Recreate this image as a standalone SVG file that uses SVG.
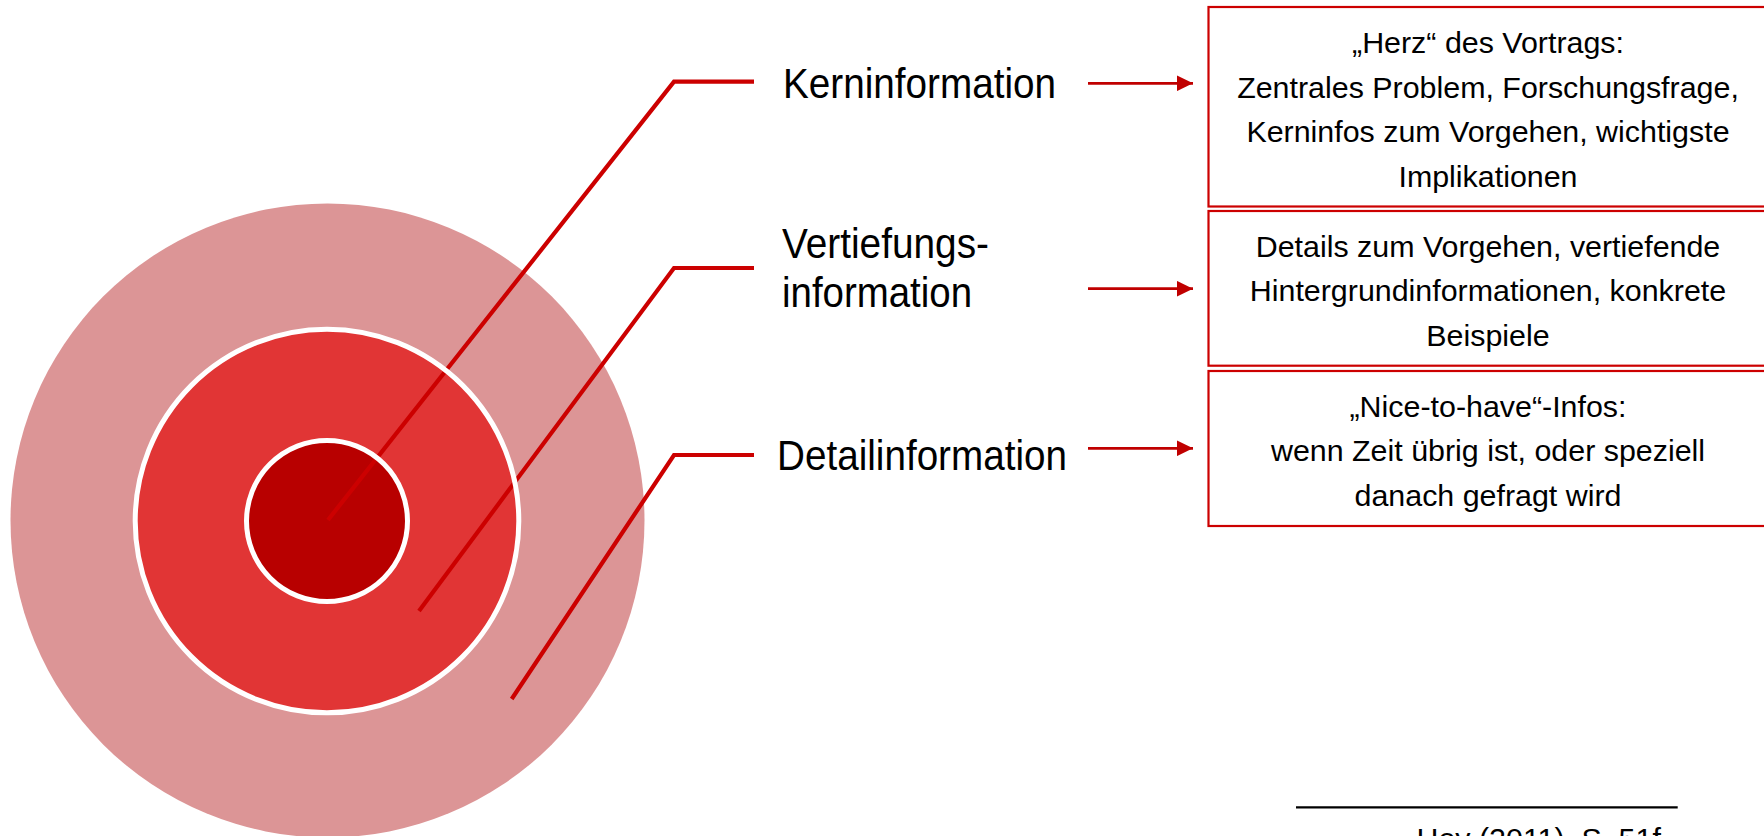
<svg xmlns="http://www.w3.org/2000/svg" width="1764" height="836" viewBox="0 0 1764 836">
  <style>
    .lbl { font-family: "Liberation Sans", Arial, sans-serif; font-size: 43px; fill: #000; }
    .txt { font-family: "Liberation Sans", Arial, sans-serif; font-size: 30.4px; fill: #000; text-anchor: middle; }
    .box { fill: #fff; stroke: #CC0000; stroke-width: 2.2; }
    .lead { fill: none; stroke: #CC0000; stroke-width: 4.2; stroke-linejoin: miter; stroke-linecap: butt; }
    .arr { stroke: #C00000; stroke-width: 2.7; }
    .ring { fill: none; stroke: #fff; stroke-width: 5; }
  </style>
  <defs>
    <marker id="head" markerUnits="userSpaceOnUse" markerWidth="16" markerHeight="16" refX="16" refY="8" orient="auto">
      <path d="M0,0.2 L16,8 L0,15.8 Z" fill="#C00000"/>
    </marker>
  </defs>

  <rect width="1764" height="836" fill="#fff"/>

  <!-- onion model: three concentric layers -->
  <g id="layers">
    <circle id="layer-detail" cx="327.5" cy="520.5" r="317" fill="#DC9596"/>
    <circle id="layer-vertiefung" cx="327" cy="521" r="192" fill="#E13535"/>
    <circle id="layer-kern" cx="327" cy="521" r="80.5" fill="#B80000"/>
  </g>

  <!-- leader lines from the layers to the labels -->
  <g id="connectors">
    <polyline class="lead" points="328,520 674,81.7 754,81.7"/>
    <polyline class="lead" points="419,611 674,268 754,268"/>
    <polyline class="lead" points="511.7,699 674,455 754,455"/>
    <line class="arr" x1="1088" y1="83.3" x2="1193" y2="83.3" marker-end="url(#head)"/>
    <line class="arr" x1="1088" y1="288.7" x2="1193" y2="288.7" marker-end="url(#head)"/>
    <line class="arr" x1="1088" y1="448.3" x2="1193" y2="448.3" marker-end="url(#head)"/>
  </g>

  <!-- white separators drawn above the leader lines -->
  <g id="separators">
    <circle class="ring" cx="327" cy="521" r="191.8"/>
    <circle class="ring" cx="327" cy="521" r="80.5"/>
  </g>

  <g id="label-kern">
    <text class="lbl" x="783" y="97.7" textLength="273" lengthAdjust="spacingAndGlyphs">Kerninformation</text>
  </g>
  <g id="label-vertiefung">
    <text class="lbl" x="782" y="258.3" textLength="207" lengthAdjust="spacingAndGlyphs">Vertiefungs-</text>
    <text class="lbl" x="782" y="306.7" textLength="190" lengthAdjust="spacingAndGlyphs">information</text>
  </g>
  <g id="label-detail">
    <text class="lbl" x="777" y="470" textLength="290" lengthAdjust="spacingAndGlyphs">Detailinformation</text>
  </g>

  <g id="box-kern">
    <rect class="box" x="1208.5" y="7" width="560" height="199.5"/>
    <text class="txt" x="1488" y="53.3">„Herz“ des Vortrags:</text>
    <text class="txt" x="1488" y="97.7">Zentrales Problem, Forschungsfrage,</text>
    <text class="txt" x="1488" y="142">Kerninfos zum Vorgehen, wichtigste</text>
    <text class="txt" x="1488" y="186.5">Implikationen</text>
  </g>
  <g id="box-vertiefung">
    <rect class="box" x="1208.5" y="211" width="560" height="154.7"/>
    <text class="txt" x="1488" y="256.7">Details zum Vorgehen, vertiefende</text>
    <text class="txt" x="1488" y="301.2">Hintergrundinformationen, konkrete</text>
    <text class="txt" x="1488" y="345.7">Beispiele</text>
  </g>
  <g id="box-detail">
    <rect class="box" x="1208.5" y="371" width="560" height="155"/>
    <text class="txt" x="1488" y="416.7">„Nice-to-have“-Infos:</text>
    <text class="txt" x="1488" y="461.4">wenn Zeit übrig ist, oder speziell</text>
    <text class="txt" x="1488" y="506">danach gefragt wird</text>
  </g>

  <!-- source note -->
  <g id="source">
    <line x1="1296" y1="807.3" x2="1677.7" y2="807.3" stroke="#000" stroke-width="2.2"/>
    <text x="1416.5" y="848.5" font-family="'Liberation Sans', Arial, sans-serif" font-size="30.4" fill="#000">Hey (2011), S. 51f</text>
  </g>
</svg>
